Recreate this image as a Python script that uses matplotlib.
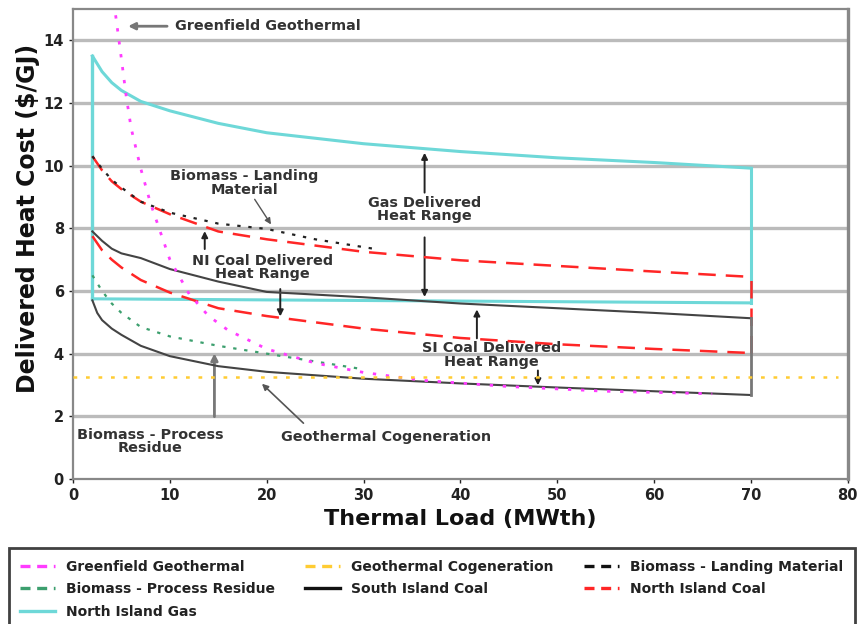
import matplotlib
matplotlib.use("Agg")
import matplotlib.pyplot as plt
from matplotlib.lines import Line2D

# ---------------- data ----------------
gas_x = [2, 3, 4, 5, 7, 10, 15, 20, 30, 40, 50, 60, 70]
gas_hi = [13.5, 13.0, 12.65, 12.4, 12.05, 11.75, 11.35, 11.05, 10.7, 10.45, 10.25, 10.1, 9.92]
gas_lo_x = [2, 70]
gas_lo = [5.75, 5.62]

coal_x = [2, 3, 4, 5, 7, 10, 15, 20, 30, 40, 50, 60, 70]
ni_hi = [10.3, 9.85, 9.5, 9.25, 8.85, 8.45, 7.9, 7.65, 7.25, 6.98, 6.8, 6.62, 6.45]
ni_lo = [7.75, 7.3, 7.0, 6.75, 6.35, 5.95, 5.45, 5.2, 4.8, 4.5, 4.3, 4.15, 4.02]
si_hi = [7.9, 7.6, 7.35, 7.2, 7.05, 6.7, 6.3, 5.97, 5.8, 5.6, 5.45, 5.3, 5.13]
si_lo_x = [2, 2.5, 3, 4, 5, 7, 10, 15, 20, 30, 40, 50, 60, 70]
si_lo = [5.7, 5.3, 5.07, 4.8, 4.6, 4.25, 3.92, 3.6, 3.42, 3.2, 3.05, 2.92, 2.8, 2.68]

bl_x = [2, 3, 4, 5, 7, 10, 15, 20, 25, 30, 31]
bl_y = [10.3, 9.9, 9.55, 9.3, 8.85, 8.5, 8.15, 7.98, 7.65, 7.4, 7.35]

bp_x = [2, 3, 4, 5, 7, 10, 15, 20, 25, 30]
bp_y = [6.5, 6.0, 5.6, 5.3, 4.85, 4.55, 4.25, 4.0, 3.75, 3.5]

gg_x = [4.4, 5, 5.5, 6, 7, 8, 9, 10, 12, 14, 16, 20, 25, 30, 36, 45, 55, 66]
gg_y = [14.8, 13.4, 12.2, 11.2, 9.9, 8.8, 7.9, 7.0, 5.9, 5.2, 4.75, 4.15, 3.7, 3.4, 3.15, 2.95, 2.8, 2.72]

cog_x = [0, 79]
cog_y = [3.27, 3.27]

x_ticks = [0, 10, 20, 30, 40, 50, 60, 70, 80]
y_ticks = [0, 2, 4, 6, 8, 10, 12, 14]

legend_labels = ["Greenfield Geothermal", "Geothermal Cogeneration", "Biomass - Landing Material",
                 "Biomass - Process Residue", "South Island Coal", "North Island Coal",
                 "North Island Gas"]

# ---------------- style ----------------
C_GAS = "#6ED8D8"
C_RED = "#FF2626"
C_MAG = "#FF3CFF"
C_GRN = "#3C9F6E"
C_YEL = "#FFCC33"
C_BLK = "#444444"
TXT = "#333333"

plt.rcParams['font.family'] = ['DejaVu Sans']
fig = plt.figure(figsize=(8.59, 6.24), dpi=100)
ax = fig.add_axes([0.085, 0.2324, 0.902, 0.7532])
ax.set_xlim(0, 80)
ax.set_ylim(0, 15)

for yv in y_ticks[1:]:
    ax.axhline(yv, color="#BBBBBB", lw=2.4, zorder=0)

# Gas
ax.plot(gas_x, gas_hi, color=C_GAS, lw=2.2, zorder=3)
ax.plot(gas_lo_x, gas_lo, color=C_GAS, lw=2.2, zorder=3)
ax.plot([gas_x[0], gas_x[0]], [gas_lo[0], gas_hi[0]], color=C_GAS, lw=2.4, zorder=3)
ax.plot([gas_x[-1], gas_x[-1]], [gas_lo[-1], gas_hi[-1]], color=C_GAS, lw=2.2, zorder=3)

# NI coal
ax.plot(coal_x, ni_hi, color=C_RED, lw=1.8, dashes=(7, 4), zorder=4)
ax.plot(coal_x, ni_lo, color=C_RED, lw=1.8, dashes=(7, 4), zorder=4)
ax.plot([coal_x[-1], coal_x[-1]], [ni_lo[-1], ni_hi[-1]], color=C_RED, lw=1.8, dashes=(7, 4), zorder=4)

# SI coal
ax.plot(coal_x, si_hi, color=C_BLK, lw=1.5, zorder=4)
ax.plot(si_lo_x, si_lo, color=C_BLK, lw=1.5, zorder=4)
ax.plot([coal_x[-1], coal_x[-1]], [si_lo[-1], si_hi[-1]], color="#777777", lw=2.0, zorder=4)

# Biomass
ax.plot(bl_x, bl_y, color="#222222", lw=1.6, dashes=(1.5, 3.5), zorder=5)
ax.plot(bp_x, bp_y, color=C_GRN, lw=1.6, dashes=(1.5, 3.5), zorder=5)

# Geothermal
ax.plot(gg_x, gg_y, color=C_MAG, lw=2.0, dashes=(1.2, 3.5), zorder=5)
ax.plot(cog_x, cog_y, color=C_YEL, lw=1.8, dashes=(1.5, 3.5), zorder=5)

# ---------------- axes styling ----------------
ax.set_xticks(x_ticks)
ax.set_yticks(y_ticks)
ax.tick_params(axis='both', labelsize=10.5, colors="#222222", length=3, width=1, direction='out')
for lab in ax.get_xticklabels() + ax.get_yticklabels():
    lab.set_fontweight('bold')
for s in ax.spines.values():
    s.set_color("#888888")
    s.set_linewidth(1.6)
ax.spines['right'].set_linewidth(2.4)
ax.set_xlabel("Thermal Load (MWth)", fontsize=16, fontweight='bold', color="#111111", labelpad=4)
ax.set_ylabel("Delivered Heat Cost ($/GJ)", fontsize=17, fontweight='bold', color="#111111")
ax.yaxis.set_label_coords(-0.043, 0.555)

# ---------------- annotations ----------------
fs = 10.4
ap_gray = dict(arrowstyle="-|>", color="#777777", lw=2.0, mutation_scale=10)
ap_blk = dict(arrowstyle="-|>", color="#222222", lw=1.4, mutation_scale=9)

ax.annotate("", xy=(5.4, 14.45), xytext=(10.0, 14.45), arrowprops=ap_gray)
ax.text(10.5, 14.45, "Greenfield Geothermal", fontsize=fs, fontweight='bold', color=TXT,
        va='center', ha='left')

ax.text(17.7, 9.45, "Biomass - Landing\nMaterial", fontsize=fs, fontweight='bold', color=TXT,
        ha='center', va='center', linespacing=0.95)
ax.annotate("", xy=(20.6, 8.05), xytext=(18.6, 9.0),
            arrowprops=dict(arrowstyle="-|>", color="#555555", lw=1.0, mutation_scale=9))

ax.text(36.3, 8.6, "Gas Delivered\nHeat Range", fontsize=fs, fontweight='bold', color=TXT,
        ha='center', va='center', linespacing=0.95)
ax.annotate("", xy=(36.3, 10.5), xytext=(36.3, 9.05), arrowprops=ap_blk)
ax.annotate("", xy=(36.3, 5.72), xytext=(36.3, 7.8), arrowprops=ap_blk)

ax.text(19.6, 6.75, "NI Coal Delivered\nHeat Range", fontsize=fs, fontweight='bold', color=TXT,
        ha='center', va='center', linespacing=0.95)
ax.annotate("", xy=(13.6, 8.0), xytext=(13.6, 7.25), arrowprops=ap_blk)
ax.annotate("", xy=(21.4, 5.1), xytext=(21.4, 6.15), arrowprops=ap_blk)

ax.text(43.2, 3.95, "SI Coal Delivered\nHeat Range", fontsize=fs, fontweight='bold', color=TXT,
        ha='center', va='center', linespacing=0.95)
ax.annotate("", xy=(41.7, 5.5), xytext=(41.7, 4.4), arrowprops=ap_blk)
ax.annotate("", xy=(48.0, 2.9), xytext=(48.0, 3.55), arrowprops=ap_blk)

ax.text(8.0, 1.2, "Biomass - Process\nResidue", fontsize=fs, fontweight='bold', color=TXT,
        ha='center', va='center', linespacing=0.95)
ax.annotate("", xy=(14.6, 4.1), xytext=(14.6, 1.9), arrowprops=ap_gray)

ax.text(32.3, 1.35, "Geothermal Cogeneration", fontsize=fs, fontweight='bold', color=TXT,
        ha='center', va='center')
ax.annotate("", xy=(19.3, 3.1), xytext=(24.0, 1.72),
            arrowprops=dict(arrowstyle="-|>", color="#555555", lw=1.2, mutation_scale=9))

# ---------------- legend ----------------
handles = [
    Line2D([], [], color=C_MAG, lw=2.4, dashes=(3, 2)),
    Line2D([], [], color=C_YEL, lw=2.4, dashes=(3, 2)),
    Line2D([], [], color="#111111", lw=2.4, dashes=(3, 2)),
    Line2D([], [], color=C_GRN, lw=2.4, dashes=(3, 2)),
    Line2D([], [], color="#111111", lw=2.4),
    Line2D([], [], color=C_RED, lw=2.4, dashes=(3, 2)),
    Line2D([], [], color=C_GAS, lw=2.4),
]
# matplotlib fills columns first; reorder so the rows read as in the reference
order = [0, 3, 6, 1, 4, 2, 5]
leg = fig.legend([handles[i] for i in order], [legend_labels[i] for i in order],
                 ncol=3, loc='upper left', bbox_to_anchor=(0.01, 0.0, 0.985, 0.122),
                 mode='expand', frameon=True, fancybox=False, borderaxespad=0,
                 prop={'size': 10, 'weight': 'bold'}, handlelength=2.5, handletextpad=0.8,
                 labelspacing=0.62, borderpad=0.85)
leg.get_frame().set_edgecolor("#111111")
leg.get_frame().set_linewidth(2.0)
for t in leg.get_texts():
    t.set_color("#222222")

fig.savefig("out.png", dpi=100)
